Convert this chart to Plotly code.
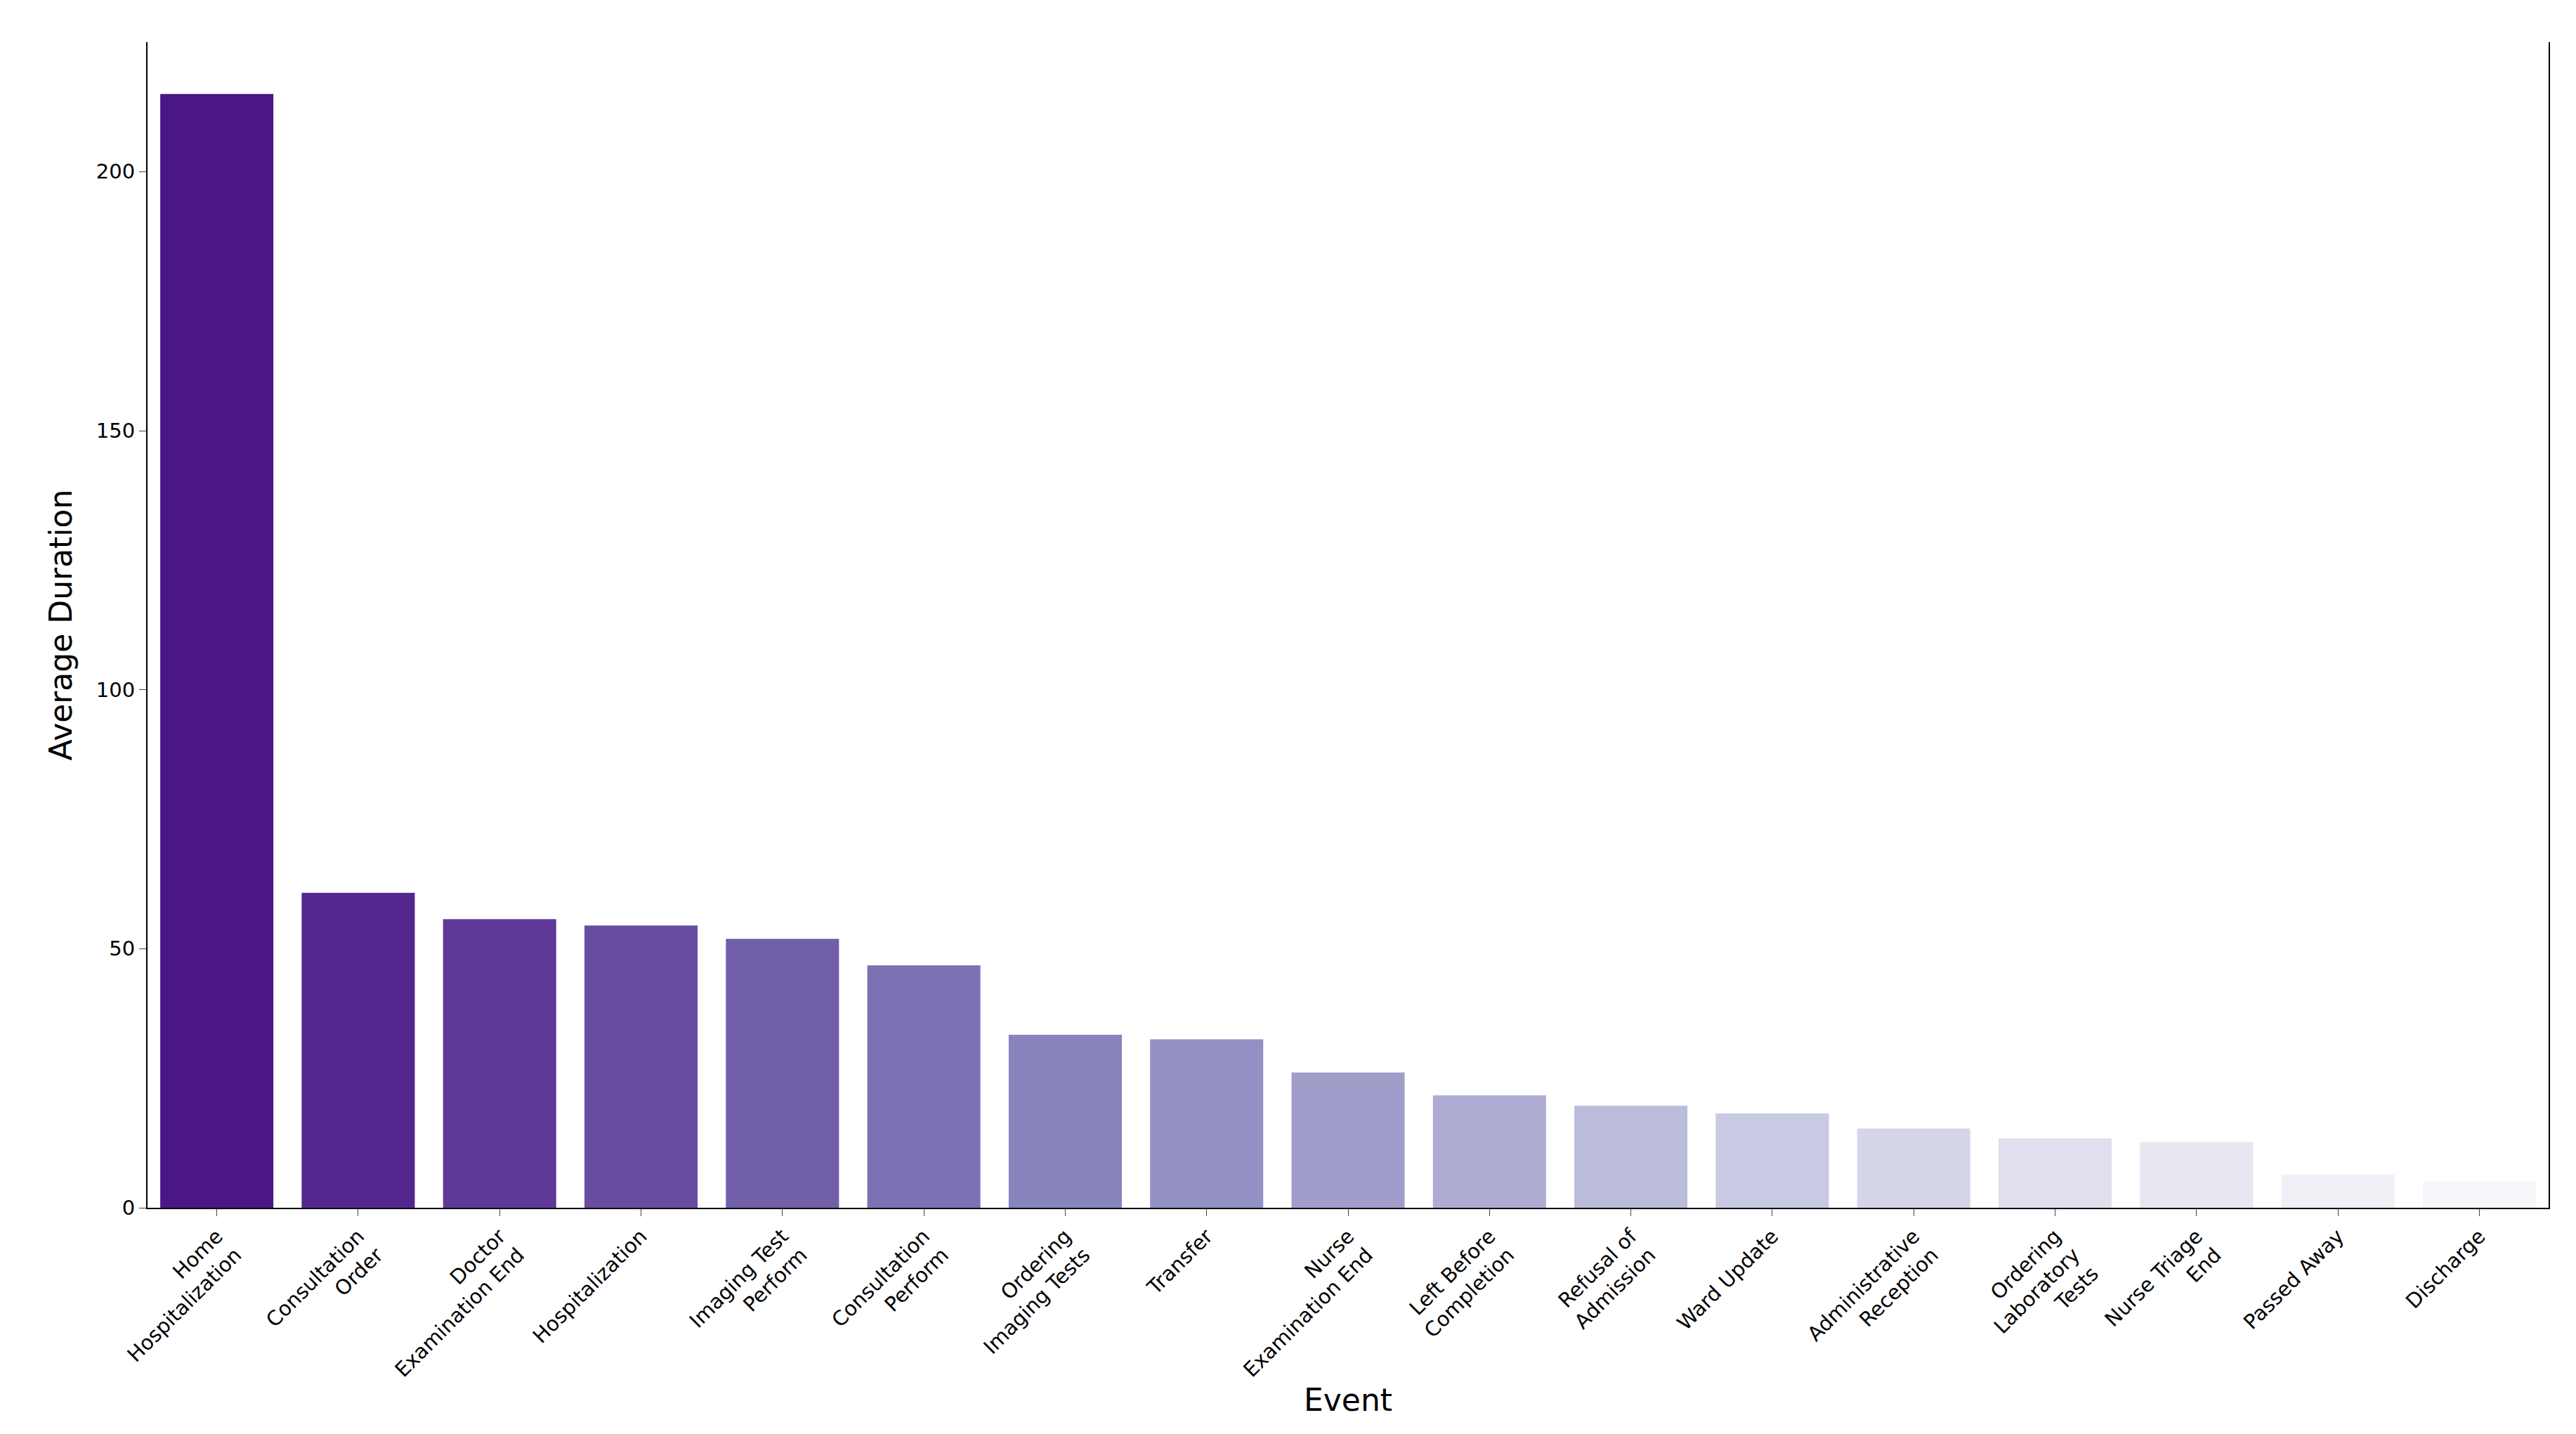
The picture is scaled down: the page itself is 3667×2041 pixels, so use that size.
import plotly.graph_objects as go
from plotly.colors import sample_colorscale

events = ["Home<br>Hospitalization", "Consultation<br>Order", "Doctor<br>Examination End", "Hospitalization",
          "Imaging Test<br>Perform", "Consultation<br>Perform", "Ordering<br>Imaging Tests", "Transfer",
          "Nurse<br>Examination End", "Left Before<br>Completion", "Refusal of<br>Admission", "Ward Update",
          "Administrative<br>Reception", "Ordering<br>Laboratory<br>Tests", "Nurse Triage<br>End", "Passed Away", "Discharge"]
durations = [215, 60.8, 55.7, 54.5, 51.9, 46.8, 33.4, 32.5, 26.1, 21.7, 19.7, 18.2, 15.3, 13.4, 12.7, 6.4, 5.1]

n = len(events)
colors = sample_colorscale("Purples", [0.93 - 0.88 * i / (n - 1) for i in range(n)])

fig = go.Figure(go.Bar(x=list(range(n)), y=durations, marker_color=colors, marker_line_width=0, width=0.8))
axfont = dict(family="DejaVu Sans", size=44, color="black")
fig.update_layout(
    width=3667, height=2041, plot_bgcolor="white", paper_bgcolor="white",
    margin=dict(l=202, r=47, t=52, b=330), showlegend=False,
    font=dict(family="DejaVu Sans", size=28, color="black"),
)
fig.update_xaxes(range=[-0.49, 16.49], tickvals=list(range(n)), ticktext=events, tickangle=-45,
                 showline=True, linecolor="black", linewidth=2, ticks="outside", ticklen=10,
                 tickfont=dict(size=29), title=dict(text="Event", font=axfont, standoff=10), showgrid=False)
fig.update_yaxes(range=[0, 225], tickvals=[0, 50, 100, 150, 200], showline=True, linecolor="black", linewidth=2,
                 mirror=True, ticks="outside", ticklen=10, tickfont=dict(size=29), showgrid=False, zeroline=False,
                 title=dict(text="Average Duration", font=axfont, standoff=20))
fig.write_html("out.html")
